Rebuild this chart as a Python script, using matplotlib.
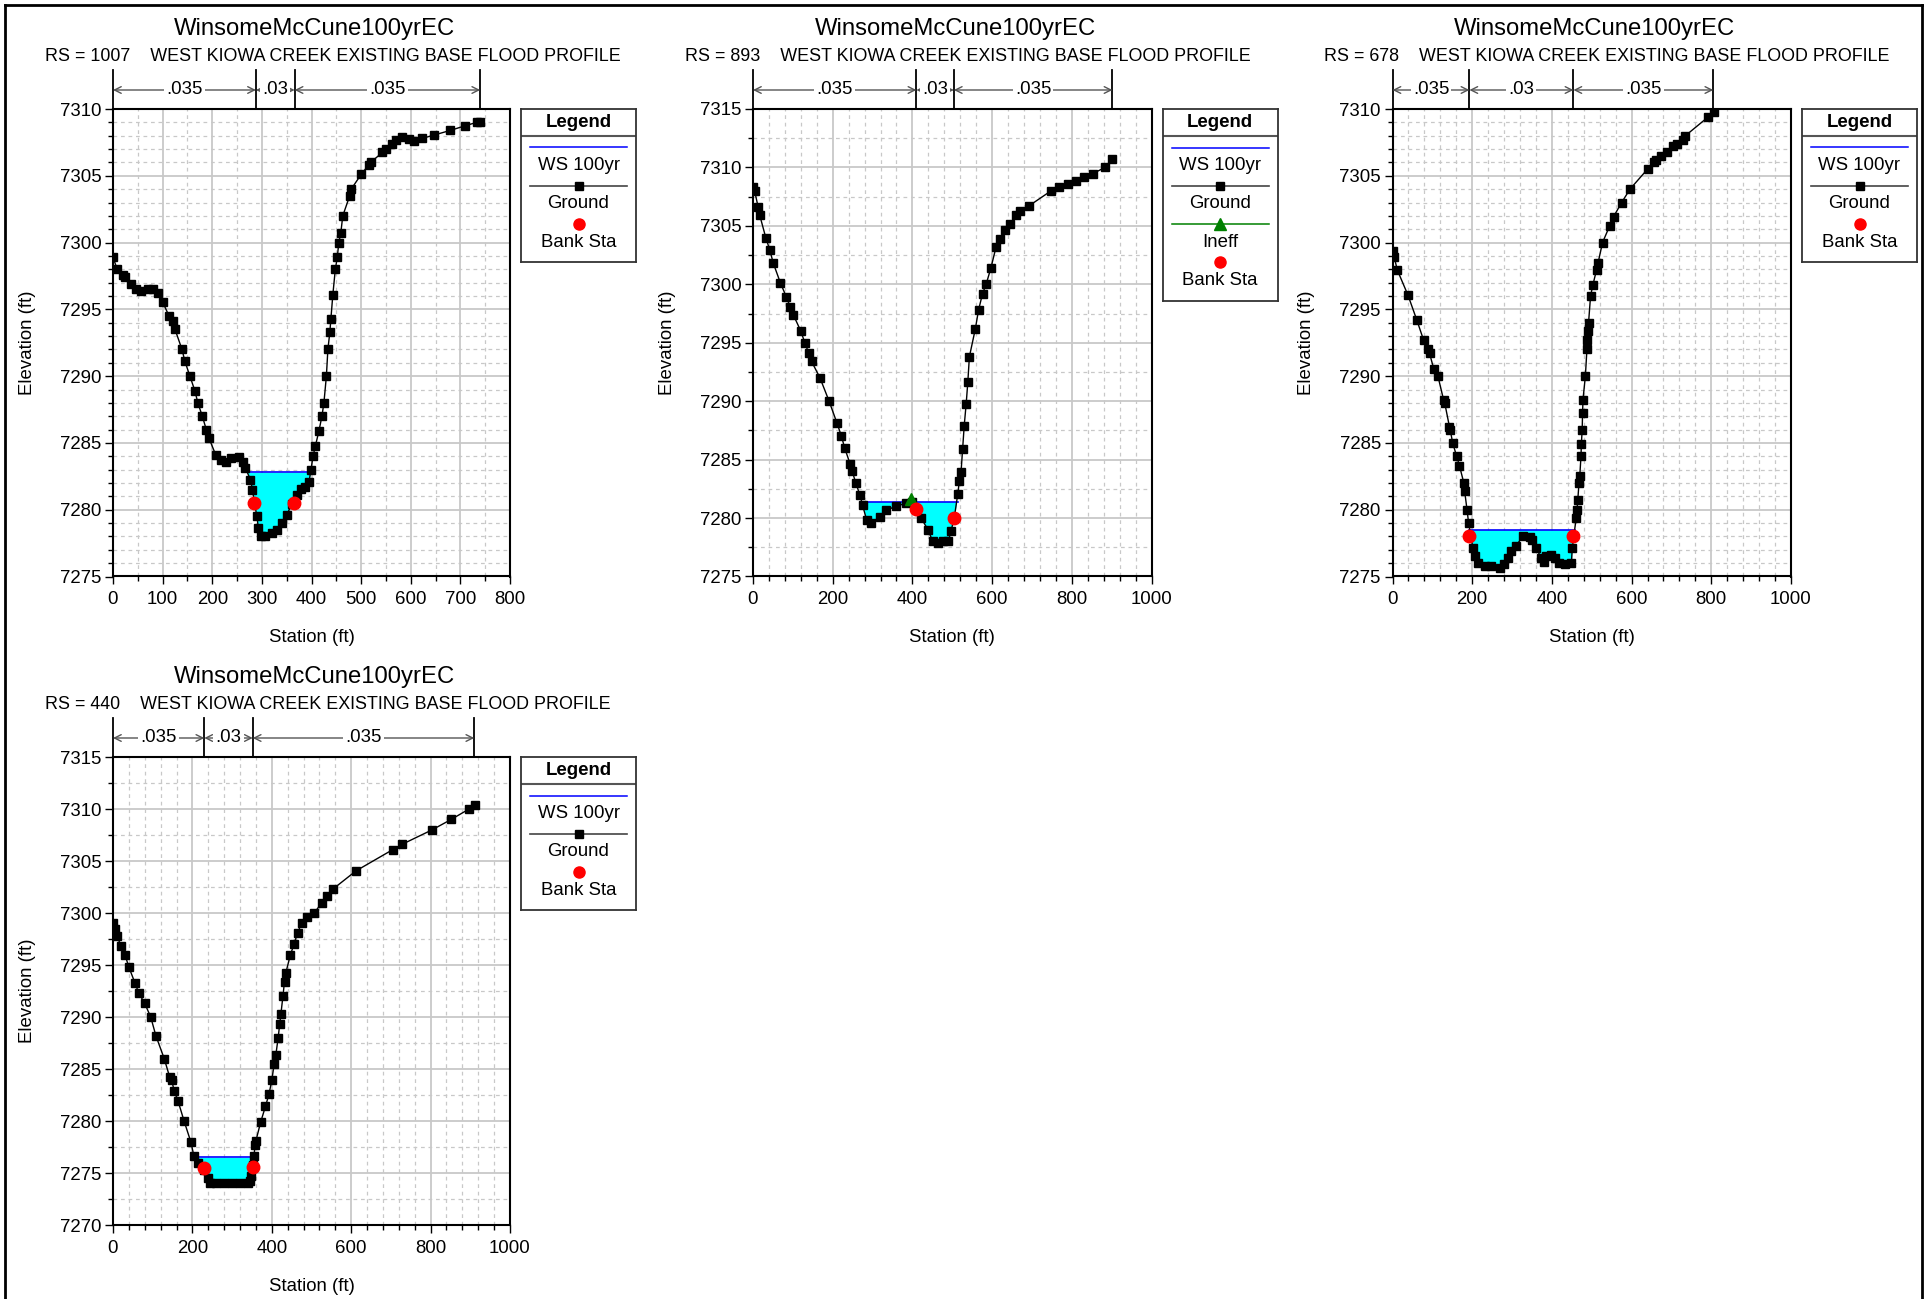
import numpy as np
import matplotlib
matplotlib.use("Agg")
import matplotlib.pyplot as plt
from matplotlib.ticker import MultipleLocator, FormatStrFormatter
from matplotlib import transforms
from matplotlib.lines import Line2D

plt.rcParams['font.family'] = ['Liberation Sans', 'DejaVu Sans']

# === 数据 ===
PLAN = "WinsomeMcCune100yrEC"
REACH = "WEST KIOWA CREEK EXISTING BASE FLOOD PROFILE"
rs_list = [1007, 893, 678, 440]

# RS 1007
st1 = [0, 8, 20, 25, 37, 47, 57, 70, 80, 90, 100, 113, 120, 125, 139, 145, 155, 165, 171, 180,
       188, 193, 207, 217, 227, 237, 253, 261, 267, 277, 281, 285, 290, 293, 299, 307, 320, 330, 340, 350,
       360, 370, 379, 387, 395, 399, 403, 408, 415, 421, 425, 430, 433, 437, 439, 443, 448, 452, 455, 459,
       463, 477, 480, 500, 515, 519, 543, 550, 563, 570, 583, 597, 607, 623, 647, 680, 710, 733, 740]
el1 = [7298.9, 7298.05, 7297.55, 7297.4, 7296.9, 7296.55, 7296.4, 7296.55, 7296.5, 7296.25,
       7295.55, 7294.5, 7294.1, 7293.5, 7292.0, 7291.1, 7290.0, 7288.9, 7288.0, 7287.0,
       7286.0, 7285.4, 7284.1, 7283.75, 7283.6, 7283.9, 7283.95, 7283.6, 7283.1, 7282.25,
       7281.5, 7280.5, 7279.5, 7278.6, 7278.0, 7278.0, 7278.25, 7278.5, 7279.0, 7279.6,
       7280.4, 7281.1, 7281.55, 7281.7, 7282.1, 7283.0, 7284.0, 7284.8, 7285.9, 7287.0,
       7288.0, 7290.0, 7292.0, 7293.3, 7294.25, 7296.1, 7298.0, 7298.9, 7300.0, 7300.7,
       7302.0, 7303.5, 7304.0, 7305.1, 7305.8, 7306.0, 7306.75, 7307.0, 7307.4, 7307.7,
       7307.9, 7307.75, 7307.6, 7307.8, 7308.05, 7308.4, 7308.75, 7309.0, 7309.05]

# RS 893
st2 = [0, 4, 13, 17, 32, 42, 51, 69, 84, 93, 101, 120, 130, 140, 147, 168, 191, 211, 222, 230,
       244, 249, 258, 268, 275, 285, 297, 318, 335, 360, 385, 398, 410, 422, 439, 451, 465, 476, 490, 497,
       505, 514, 518, 522, 526, 530, 535, 539, 543, 558, 566, 576, 585, 597, 610, 620, 632, 645, 660, 671,
       692, 748, 769, 790, 811, 831, 852, 883, 902]
el2 = [7308.3, 7308.0, 7306.6, 7305.9, 7304.0, 7302.95, 7301.8, 7300.1, 7298.9, 7298.1,
       7297.4, 7296.0, 7295.0, 7294.1, 7293.4, 7292.0, 7290.0, 7288.1, 7287.0, 7286.0,
       7284.6, 7284.0, 7283.0, 7282.0, 7281.1, 7279.85, 7279.6, 7280.1, 7280.7, 7281.0,
       7281.3, 7281.35, 7280.8, 7280.0, 7279.0, 7278.0, 7277.9, 7278.0, 7278.0, 7278.9,
       7280.0, 7282.1, 7283.2, 7283.9, 7285.9, 7287.9, 7289.8, 7291.6, 7293.8, 7296.2,
       7297.8, 7299.2, 7300.0, 7301.4, 7303.2, 7303.9, 7304.65, 7305.2, 7305.9, 7306.3,
       7306.7, 7308.0, 7308.35, 7308.6, 7308.8, 7309.2, 7309.45, 7310.0, 7310.7]

# RS 678
st3 = [0, 4, 12, 39, 61, 78, 89, 93, 104, 114, 128, 131, 143, 145, 151, 161, 168, 179, 181, 187,
       191, 202, 206, 214, 231, 248, 269, 281, 290, 298, 310, 327, 344, 351, 361, 373, 379, 386, 398, 409,
       419, 432, 449, 451, 461, 463, 465, 468, 470, 473, 474, 476, 477, 478, 484, 488, 489, 490, 492, 497,
       503, 512, 516, 527, 545, 555, 575, 596, 640, 655, 662, 675, 688, 705, 715, 728, 735, 792, 808]
el3 = [7299.4, 7298.95, 7297.95, 7296.05, 7294.2, 7292.7, 7292.0, 7291.7, 7290.5, 7290.0,
       7288.25, 7288.0, 7286.2, 7285.95, 7285.0, 7284.0, 7283.3, 7282.0, 7281.4, 7280.0,
       7279.0, 7277.1, 7276.5, 7276.0, 7275.75, 7275.75, 7275.6, 7275.9, 7276.4, 7276.9,
       7277.3, 7278.0, 7277.95, 7277.75, 7277.1, 7276.4, 7276.1, 7276.5, 7276.6, 7276.4,
       7276.0, 7275.95, 7276.0, 7277.1, 7279.4, 7280.0, 7280.75, 7282.0, 7282.55, 7284.0,
       7284.95, 7286.0, 7287.25, 7288.25, 7290.0, 7292.05, 7292.7, 7293.4, 7294.0, 7296.0,
       7296.85, 7297.95, 7298.5, 7300.0, 7301.25, 7301.95, 7303.0, 7304.0, 7305.5, 7306.05,
       7306.2, 7306.5, 7306.8, 7307.2, 7307.4, 7307.7, 7308.0, 7309.4, 7309.8]

# RS 440
st4 = [0, 5, 10, 21, 30, 40, 55, 65, 80, 95, 108, 129, 143, 148, 154, 164, 179, 196, 204, 214,
       230, 240, 245, 260, 280, 300, 319, 340, 345, 348, 352, 355, 358, 360, 372, 384, 393, 400, 406, 410,
       416, 420, 423, 428, 432, 435, 447, 456, 465, 475, 489, 507, 526, 538, 554, 612, 705, 728, 804, 852,
       897, 913]
el4 = [7299.05, 7298.5, 7297.75, 7296.8, 7296.0, 7294.8, 7293.3, 7292.3, 7291.3, 7290.0,
       7288.2, 7286.0, 7284.2, 7283.9, 7282.9, 7281.9, 7280.0, 7278.0, 7276.6, 7276.0,
       7275.3, 7274.5, 7274.0, 7274.0, 7274.0, 7274.0, 7274.0, 7274.0, 7274.2, 7274.7,
       7275.8, 7276.6, 7277.7, 7278.1, 7279.9, 7281.4, 7282.6, 7283.9, 7285.5, 7286.3,
       7288.0, 7289.35, 7290.3, 7292.0, 7293.4, 7294.2, 7296.0, 7297.0, 7298.1, 7299.0,
       7299.6, 7300.0, 7301.0, 7301.6, 7302.3, 7304.05, 7306.1, 7306.6, 7308.0, 7309.0,
       7310.0, 7310.35]

stations = [st1, st2, st3, st4]
elevs = [el1, el2, el3, el4]

ws_elev = [7282.8, 7281.4, 7278.5, 7276.5]
ws_left = [272, 272, 191, 208]
ws_right = [399, 514, 457, 355]

bank_st = [[285, 364], [410, 504], [193, 454], [228, 352]]
bank_el = [[7280.5, 7280.5], [7280.8, 7280.0], [7278.0, 7278.0], [7275.5, 7275.6]]

ineff_st = [None, 396, None, None]
ineff_el = [None, 7281.6, None, None]

n_breaks = [[0, 288, 366, 740], [0, 410, 504, 902], [0, 193, 454, 805], [0, 230, 352, 910]]
n_values = ['.035', '.03', '.035']

xlims = [(0, 800), (0, 1000), (0, 1000), (0, 1000)]
ylims = [(7275, 7310), (7275, 7315), (7275, 7310), (7270, 7315)]
x_major = [100, 200, 200, 200]
x_minor = [50, 40, 40, 40]
y_minor = [1, 2.5, 1, 2.5]

# === 布局（像素）===
W, H = 1927, 1299
boxes = [(113, 109, 510, 576.5), (753, 109, 1151.5, 576.5),
         (1392.5, 109, 1791, 576.5), (113, 757, 510, 1225)]

FS = 13.4


def rect(l, t, r, b):
    return [l / W, 1 - b / H, (r - l) / W, (b - t) / H]


fig = plt.figure(figsize=(W / 100, H / 100), dpi=100)

# 外框
for xs, ys in [((5, 1922), (5, 5)), ((5, 5), (5, 1310)), ((1922, 1922), (5, 1310))]:
    fig.add_artist(Line2D([x / W for x in xs], [1 - y / H for y in ys],
                          transform=fig.transFigure, color='black', lw=2))


def draw_legend(left, top, has_ineff):
    n = 4 if has_ineff else 3
    h = 38.5 + 38.3 * n
    w = 115
    lax = fig.add_axes(rect(left, top, left + w, top + h))
    lax.set_xlim(0, w)
    lax.set_ylim(h, 0)
    lax.set_xticks([])
    lax.set_yticks([])
    for s in lax.spines.values():
        s.set_linewidth(1.3)
        s.set_color('#333333')
    lax.text(w / 2, 13.5, 'Legend', ha='center', va='center', fontsize=FS, fontweight='bold')
    lax.plot([0, w], [26.7, 26.7], color='#555555', lw=1.5)
    items = [('WS 100yr', 'ws'), ('Ground', 'ground')]
    if has_ineff:
        items.append(('Ineff', 'ineff'))
    items.append(('Bank Sta', 'bank'))
    for i, (lab, kind) in enumerate(items):
        y = 38.5 + 38.3 * i
        if kind == 'ws':
            lax.plot([9, 106], [y, y], color='blue', lw=1.1)
        elif kind == 'ground':
            lax.plot([9, 106], [y, y], color='#444444', lw=1.2)
            lax.plot([57.5], [y], 's', color='black', ms=5.5)
        elif kind == 'ineff':
            lax.plot([9, 106], [y, y], color='green', lw=1.1)
            lax.plot([57.5], [y], '^', color='green', ms=8)
        else:
            lax.plot([57.5], [y], 'o', color='red', ms=8)
        lax.text(w / 2, y + 18, lab, ha='center', va='center', fontsize=FS)


for i in range(4):
    l, t, r, b = boxes[i]
    ax = fig.add_axes(rect(l, t, r, b))
    st = np.array(stations[i])
    el = np.array(elevs[i])
    ws = ws_elev[i]

    # 水面与填充
    inside = (st >= ws_left[i]) & (st <= ws_right[i])
    ax.fill_between(st, el, ws, where=(el < ws) & inside, interpolate=True,
                    color='#00FFFF', lw=0, zorder=2)
    ax.plot([ws_left[i], ws_right[i]], [ws, ws], color='blue', lw=1.2, zorder=3)

    # 地面线
    ax.plot(st, el, color='black', lw=1, marker='s', ms=6, zorder=4)

    if ineff_st[i] is not None:
        ax.plot([ineff_st[i]], [ineff_el[i]], '^', color='green', ms=8, zorder=5)
    ax.plot(bank_st[i], bank_el[i], 'o', color='red', ms=9, ls='none', zorder=6)

    ax.set_xlim(*xlims[i])
    ax.set_ylim(*ylims[i])
    ax.xaxis.set_major_locator(MultipleLocator(x_major[i]))
    ax.xaxis.set_minor_locator(MultipleLocator(x_minor[i]))
    ax.yaxis.set_major_locator(MultipleLocator(5))
    ax.yaxis.set_minor_locator(MultipleLocator(y_minor[i]))
    ax.yaxis.set_major_formatter(FormatStrFormatter('%d'))
    ax.xaxis.set_major_formatter(FormatStrFormatter('%d'))
    ax.grid(which='major', color='#c8c8c8', lw=1.3, ls='-')
    ax.grid(which='minor', color='#c8c8c8', lw=0.9, ls=(0, (3, 3)))
    ax.set_axisbelow(True)
    ax.tick_params(which='major', direction='out', length=5.8, width=1, labelsize=FS)
    ax.tick_params(axis='y', which='major', pad=2.6)
    ax.tick_params(axis='x', which='major', pad=5)
    ax.tick_params(which='minor', direction='out', length=3.5, width=1)
    for s in ax.spines.values():
        s.set_linewidth(1.5)
        s.set_color('black')

    # 糙率标注
    trans = transforms.blended_transform_factory(ax.transData, ax.transAxes)
    hpx = b - t
    y_arrow = 1 + 19 / hpx
    y_top = 1 + 39 / hpx
    brk = n_breaks[i]
    for x in brk:
        ax.plot([x, x], [1, y_top], transform=trans, color='black', lw=1.3, clip_on=False)
    for k in range(3):
        ax.annotate('', xy=(brk[k + 1], y_arrow), xytext=(brk[k], y_arrow),
                    xycoords=trans, textcoords=trans,
                    arrowprops=dict(arrowstyle='<->', color='#555555', lw=1,
                                    shrinkA=0, shrinkB=0, mutation_scale=12))
        ax.text((brk[k] + brk[k + 1]) / 2, y_arrow, n_values[k], transform=trans,
                ha='center', va='center', fontsize=FS,
                bbox=dict(facecolor='white', edgecolor='none', pad=1.5))

    # 标题
    cx = (l + r) / 2
    fig.text((cx + 3) / W, 1 - (t - 80) / H, PLAN, ha='center', va='center', fontsize=17.2)
    fig.text((l - 68) / W, 1 - (t - 52.5) / H, f"RS = {rs_list[i]}    {REACH}",
             ha='left', va='center', fontsize=12.85)
    fig.text(cx / W, 1 - (b + 61.5) / H, 'Station (ft)', ha='center', va='center', fontsize=FS)
    fig.text((l - 86) / W, 1 - ((t + b) / 2) / H, 'Elevation (ft)', ha='center', va='center',
             rotation=90, fontsize=FS)

    draw_legend(r + 11, t, ineff_st[i] is not None)

fig.savefig('out.png', dpi=100)
